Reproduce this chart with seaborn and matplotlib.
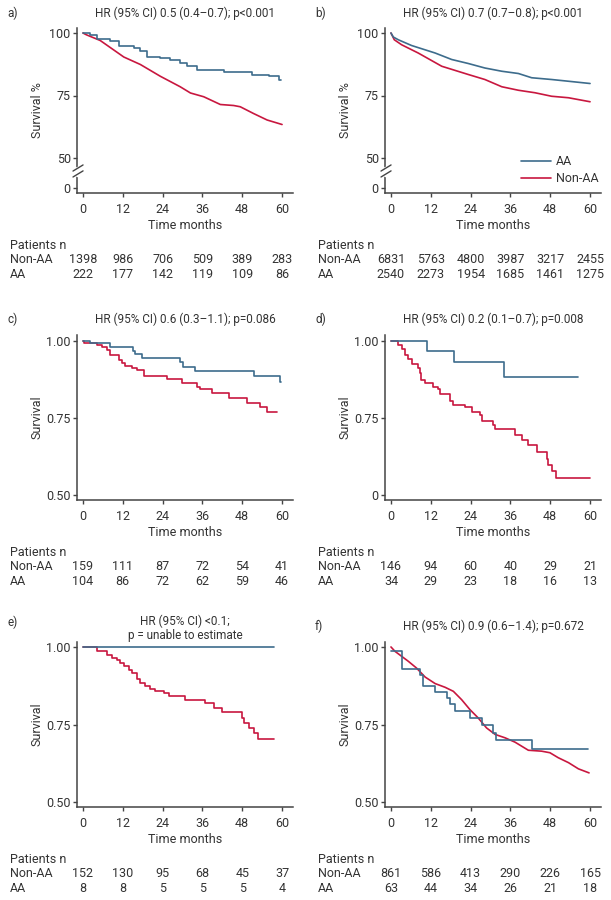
import matplotlib
matplotlib.use('Agg')
import matplotlib.pyplot as plt
import pandas as pd
import seaborn as sns

BLUE = '#3d6c8c'
RED = '#c8173f'
TXT = '#333333'

months = [0, 12, 24, 36, 48, 60]

# a) -- survival in %
a_title = 'HR (95% CI) 0.5 (0.4–0.7); p<0.001'
a_aa_t = [0, 2.2, 4.2, 8.2, 10.8, 15.3, 17.3, 19.3, 23.3, 26.3, 29.3, 31.4, 34.4, 42.4, 51.0, 56.0, 59.0, 59.6]
a_aa_s = [100, 99.3, 97.8, 96.8, 94.7, 94.0, 93.0, 90.4, 90.0, 89.4, 88.0, 86.7, 85.1, 84.3, 83.4, 82.7, 81.4, 81.4]
a_non_t = [0, 1, 5.2, 12.3, 17.3, 23.3, 29.3, 32.4, 36.4, 41.4, 45.4, 47.4, 51.4, 55.5, 60]
a_non_s = [100, 99.3, 97.0, 90.4, 87.4, 82.7, 78.5, 76.0, 74.5, 71.4, 71.0, 70.5, 67.8, 65.2, 63.4]
a_risk_non = [1398, 986, 706, 509, 389, 283]
a_risk_aa = [222, 177, 142, 119, 109, 86]

# b)
b_title = 'HR (95% CI) 0.7 (0.7–0.8); p<0.001'
b_aa_t = [0, 0.7, 2.2, 6.2, 13.3, 18.3, 23.3, 28.3, 33.4, 38.4, 42.4, 48.4, 53.5, 60]
b_aa_s = [100, 98.4, 97.3, 95.0, 92.0, 89.4, 87.8, 86.0, 84.7, 83.8, 82.1, 81.4, 80.7, 79.8]
b_non_t = [0, 1, 3.2, 8.2, 15.3, 23.3, 28.3, 33.4, 38.4, 43.4, 48.4, 53.5, 60]
b_non_s = [100, 97.3, 95.3, 92.0, 86.7, 83.4, 81.4, 78.5, 77.1, 76.1, 74.7, 74.1, 72.5]
b_risk_non = [6831, 5763, 4800, 3987, 3217, 2455]
b_risk_aa = [2540, 2273, 1954, 1685, 1461, 1275]

# c)
c_title = 'HR (95% CI) 0.6 (0.3–1.1); p=0.086'
c_aa_t = [0, 2.2, 8.2, 15.0, 15.8, 17.8, 29.3, 30.2, 33.9, 51.5, 59.5, 59.7]
c_aa_s = [1.0, 0.993, 0.979, 0.968, 0.957, 0.944, 0.933, 0.915, 0.901, 0.885, 0.866, 0.866]
c_non_t = [0, 0.3, 4.2, 5.7, 7.2, 8.0, 10.8, 11.8, 12.8, 14.8, 16.3, 18.3, 25.3, 29.8, 34.4, 35.4,
           38.9, 43.9, 49.4, 53.4, 55.5, 58.5]
c_non_s = [1.0, 0.993, 0.986, 0.979, 0.970, 0.954, 0.938, 0.928, 0.919, 0.912, 0.906, 0.887, 0.876,
           0.864, 0.851, 0.843, 0.830, 0.816, 0.800, 0.784, 0.768, 0.768]
c_risk_non = [159, 111, 87, 72, 54, 41]
c_risk_aa = [104, 86, 72, 62, 59, 46]

# d)
d_title = 'HR (95% CI) 0.2 (0.1–0.7); p=0.008'
d_aa_t = [0, 10.8, 19.1, 34.2, 56.5]
d_aa_s = [1.0, 0.967, 0.930, 0.882, 0.882]
d_non_t = [0, 2.2, 3.2, 4.2, 5.2, 6.2, 8.2, 8.7, 9.2, 10.2, 12.8, 14.3, 14.8, 17.8, 18.8, 22.3, 24.3,
           26.8, 27.3, 30.9, 31.4, 37.4, 39.4, 41.4, 43.9, 46.9, 47.4, 48.4, 49.6, 60]
d_non_s = [1.0, 0.986, 0.972, 0.954, 0.941, 0.926, 0.912, 0.896, 0.874, 0.864, 0.851, 0.843, 0.827,
           0.805, 0.791, 0.784, 0.770, 0.758, 0.741, 0.728, 0.713, 0.696, 0.678, 0.662, 0.639, 0.617,
           0.598, 0.579, 0.555, 0.555]
d_risk_non = [146, 94, 60, 40, 29, 21]
d_risk_aa = [34, 29, 23, 18, 16, 13]

# e)
e_title = 'HR (95% CI) <0.1;\np = unable to estimate'
e_aa_t = [0, 57.5]
e_aa_s = [1.0, 1.0]
e_non_t = [0, 4.2, 7.2, 8.7, 10.3, 11.3, 12.3, 13.8, 14.8, 16.3, 17.3, 18.8, 20.3, 21.8, 24.3, 25.8,
           30.9, 36.9, 39.4, 41.9, 47.9, 48.4, 49.9, 51.4, 52.9, 57.5]
e_non_s = [1.0, 0.988, 0.975, 0.965, 0.957, 0.948, 0.940, 0.927, 0.916, 0.897, 0.884, 0.873, 0.865,
           0.857, 0.850, 0.841, 0.830, 0.818, 0.804, 0.790, 0.772, 0.756, 0.740, 0.721, 0.702, 0.702]
e_risk_non = [152, 130, 95, 68, 45, 37]
e_risk_aa = [8, 8, 5, 5, 5, 4]

# f)
f_title = 'HR (95% CI) 0.9 (0.6–1.4); p=0.672'
f_aa_t = [0, 3.2, 8.7, 9.8, 13.3, 16.9, 17.8, 19.3, 23.8, 27.3, 30.9, 31.6, 42.4, 59.3]
f_aa_s = [0.986, 0.930, 0.911, 0.873, 0.854, 0.836, 0.815, 0.793, 0.771, 0.747, 0.723, 0.700, 0.672, 0.672]
f_non_t = [0, 1.2, 3.2, 5.2, 7.7, 10.3, 13.3, 16.3, 18.8, 21.3, 23.8, 26.3, 28.8, 31.4, 34.4, 37.4,
           41.4, 45.4, 47.9, 50.4, 53.5, 56.5, 59.7]
f_non_s = [1.0, 0.986, 0.970, 0.954, 0.932, 0.903, 0.882, 0.870, 0.857, 0.830, 0.798, 0.771, 0.739,
           0.718, 0.707, 0.693, 0.667, 0.664, 0.659, 0.643, 0.627, 0.607, 0.594]
f_risk_non = [861, 586, 413, 290, 226, 165]
f_risk_aa = [63, 44, 34, 26, 21, 18]

sns.set_theme(style='ticks')
plt.rcParams['font.family'] = ['Roboto', 'DejaVu Sans']
plt.rcParams.update({
    'font.size': 8.5,
    'axes.labelsize': 9,
    'xtick.labelsize': 9,
    'ytick.labelsize': 9,
    'legend.fontsize': 9,
    'text.color': TXT,
    'axes.labelcolor': TXT,
    'xtick.color': '#444444',
    'ytick.color': '#444444',
    'xtick.labelcolor': TXT,
    'ytick.labelcolor': TXT,
    'axes.edgecolor': '#444444',
    'axes.linewidth': 1.1,
    'xtick.major.size': 3,
    'ytick.major.size': 3,
    'xtick.major.width': 1.0,
    'ytick.major.width': 1.0,
    'xtick.major.pad': 4.5,
    'ytick.major.pad': 1.5,
})

fig = plt.figure(figsize=(6.11, 9.0), dpi=100)

W, H = 611, 900
col_left = [77, 385]
row_top = [28, 335, 642]
ax_w, ax_h = 216, 165


def make_ax(col, row):
    l, t = col_left[col], row_top[row]
    return fig.add_axes([l / W, 1 - (t + ax_h) / H, ax_w / W, ax_h / H])


def curve(ax, t, s, color, label, steps):
    df = pd.DataFrame({'t': t, 's': s})
    sns.lineplot(data=df, x='t', y='s', ax=ax, color=color, lw=1.2, label=label,
                 drawstyle='steps-post' if steps else 'default', legend=False)


def draw_panel(ax, letter, title, title_off, aa, non, steps_aa, steps_non, ylims, yticks, ylabels,
               ylabel, risk_non, risk_aa, label_x):
    curve(ax, non[0], non[1], RED, 'Non-AA', steps_non)
    curve(ax, aa[0], aa[1], BLUE, 'AA', steps_aa)
    ax.set_xlim(-1.8, 63.3)
    ax.set_ylim(*ylims)
    ax.set_xticks(months)
    ax.set_yticks(yticks)
    ax.set_yticklabels(ylabels)
    ax.set_xlabel('Time months')
    ax.set_ylabel(ylabel)
    ax.xaxis.set_label_coords(0.5, -0.155)
    ax.yaxis.set_label_coords(-0.155, 0.5)
    sns.despine(ax=ax)

    ax.annotate(title, xy=(0.5, 1), xycoords='axes fraction', xytext=(0, title_off),
                textcoords='offset points', ha='center', va='center', linespacing=1.15)
    ax.annotate(letter, xy=(label_x / W, 1), xycoords=('figure fraction', 'axes fraction'),
                xytext=(0, title_off + (0 if '\n' not in title else 4.7)),
                textcoords='offset points', ha='left', va='center')

    # numbers at risk
    for lab, dy in [('Patients n', -37.8), ('Non-AA', -47.8), ('AA', -59.0)]:
        ax.annotate(lab, xy=((label_x + 3) / W, 0), xycoords=('figure fraction', 'axes fraction'),
                    xytext=(0, dy), textcoords='offset points', ha='left', va='center', fontsize=9)
    for m, n_non, n_aa in zip(months, risk_non, risk_aa):
        ax.annotate(str(n_non), xy=(m, 0), xycoords=('data', 'axes fraction'),
                    xytext=(0, -47.8), textcoords='offset points', ha='center', va='center',
                    fontsize=9)
        ax.annotate(str(n_aa), xy=(m, 0), xycoords=('data', 'axes fraction'),
                    xytext=(0, -59.0), textcoords='offset points', ha='center', va='center',
                    fontsize=9)


def axis_break(ax):
    # "//" break on the y axis between 0 and 50
    ax.plot([0, 0], [0.112, 0.152], transform=ax.transAxes, color='white', lw=2.5,
            clip_on=False, zorder=5)
    for y0 in (0.097, 0.133):
        ax.plot([-0.0185, 0.028], [y0, y0 + 0.037], transform=ax.transAxes, color='#444444',
                lw=1.0, clip_on=False, zorder=6)


pct_ticks = [38, 50, 75, 100]
pct_labels = ['0', '50', '75', '100']
frac_ticks = [0.5, 0.75, 1.0]
frac_labels = ['0.50', '0.75', '1.00']

ax_a = make_ax(0, 0)
draw_panel(ax_a, 'a)', a_title, 10.8, (a_aa_t, a_aa_s), (a_non_t, a_non_s), True, False,
           (36, 102), pct_ticks, pct_labels, 'Survival %', a_risk_non, a_risk_aa, 7)
axis_break(ax_a)

ax_b = make_ax(1, 0)
draw_panel(ax_b, 'b)', b_title, 10.8, (b_aa_t, b_aa_s), (b_non_t, b_non_s), False, False,
           (36, 102), pct_ticks, pct_labels, 'Survival %', b_risk_non, b_risk_aa, 315)
axis_break(ax_b)
ax_b.legend(loc='lower right', bbox_to_anchor=(1.04, -0.02), frameon=False, handlelength=2.4,
            handletextpad=0.4, labelspacing=0.3,
            handles=ax_b.get_lines()[1::-1][:2], labels=['AA', 'Non-AA'])

ax_c = make_ax(0, 1)
draw_panel(ax_c, 'c)', c_title, 11.5, (c_aa_t, c_aa_s), (c_non_t, c_non_s), True, True,
           (0.484, 1.019), frac_ticks, frac_labels, 'Survival', c_risk_non, c_risk_aa, 7)

ax_d = make_ax(1, 1)
draw_panel(ax_d, 'd)', d_title, 11.5, (d_aa_t, d_aa_s), (d_non_t, d_non_s), True, True,
           (0.484, 1.019), frac_ticks, ['0', '0.75', '1.00'], 'Survival', d_risk_non, d_risk_aa, 315)

ax_e = make_ax(0, 2)
draw_panel(ax_e, 'e)', e_title, 9.7, (e_aa_t, e_aa_s), (e_non_t, e_non_s), True, True,
           (0.484, 1.016), frac_ticks, frac_labels, 'Survival', e_risk_non, e_risk_aa, 7)

ax_f = make_ax(1, 2)
draw_panel(ax_f, 'f)', f_title, 11.5, (f_aa_t, f_aa_s), (f_non_t, f_non_s), True, False,
           (0.484, 1.016), frac_ticks, frac_labels, 'Survival', f_risk_non, f_risk_aa, 315)

fig.savefig('out.png', dpi=100)
plt.close(fig)
